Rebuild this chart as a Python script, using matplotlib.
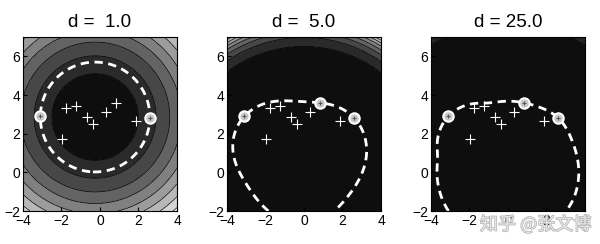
import numpy as np
import matplotlib
matplotlib.use("Agg")
from matplotlib import pyplot as plt
from matplotlib.ticker import MaxNLocator
import matplotlib.patheffects as pe
from itertools import combinations

plt.rcParams['font.family'] = ['Liberation Sans', 'Noto Sans CJK SC', 'DejaVu Sans']

# training objects
px = [-1.78, -1.26, -0.68, -0.37, 0.34, 0.84, 1.87, -1.95, -3.09, 2.59]
py = [3.34, 3.43, 2.88, 2.48, 3.14, 3.60, 2.67, 1.74, 2.90, 2.83]
degrees = [1, 5, 25]
titles = ["d =  1.0", "d =  5.0", "d = 25.0"]

X = np.column_stack([px, py])


def kern(A, B, d):
    return (A @ B.T + 1.0) ** d


def svdd(X, d):
    # hard margin SVDD, solved exactly by trying support sets
    K = kern(X, X, d)
    s = K.max()
    K = K / s
    dg = np.diag(K)
    n = len(X)
    best = None
    for m in range(1, 5):
        for S in combinations(range(n), m):
            S = list(S)
            A = np.zeros((m + 1, m + 1))
            A[:m, :m] = 2 * K[np.ix_(S, S)]
            A[:m, m] = 1
            A[m, :m] = 1
            b = np.append(dg[S], 1.0)
            try:
                sol = np.linalg.solve(A, b)
            except np.linalg.LinAlgError:
                continue
            a = np.zeros(n)
            a[S] = sol[:m]
            if a.min() < -1e-9:
                continue
            aka = a @ K @ a
            dist = dg - 2 * K @ a + aka
            R2 = dist[S].mean()
            if dist.max() > R2 + 1e-7 * max(1.0, abs(R2)):
                continue
            dual = a @ dg - aka
            if best is None or dual > best[0]:
                best = (dual, a, R2, aka)
    _, a, R2, aka = best
    return a, R2, aka, s


xg = np.linspace(-4, 4, 301)
yg = np.linspace(-2, 7, 341)
XX, YY = np.meshgrid(xg, yg)
Z = np.column_stack([XX.ravel(), YY.ravel()])

fig = plt.figure(figsize=(6.0, 2.44), dpi=100)
lefts = [0.038, 0.378, 0.718]

for i, d in enumerate(degrees):
    ax = fig.add_axes([lefts[i], 0.135, 0.257, 0.713])
    a, R2, aka, s = svdd(X, d)
    kz = kern(Z, X, d) / s
    kzz = ((Z * Z).sum(1) + 1.0) ** d / s
    F = (kzz - 2 * kz @ a + aka).reshape(XX.shape)
    if d == 1:
        F = F * s  # back to plain squared distance
        R2 = R2 * s
    lev = MaxNLocator(nbins=9).tick_values(F.min(), F.max())
    ax.contourf(XX, YY, F, levels=lev, cmap='gray')
    ax.contour(XX, YY, F, levels=lev[1:-1], colors='k', linewidths=0.5)
    ax.contour(XX, YY, F, levels=[R2], colors='white', linewidths=2.0,
               linestyles=[(0, (3, 2))])
    sv = a > 1e-6
    ax.plot(X[~sv, 0], X[~sv, 1], '+', color='white', ms=6.5, mew=0.8)
    ax.plot(X[sv, 0], X[sv, 1], 'o', mfc='#c8c8c8', mec='white', ms=7.5, mew=1.5)
    ax.plot(X[sv, 0], X[sv, 1], '+', color='#555555', ms=3, mew=0.8)
    ax.set_xlim(-4, 4)
    ax.set_ylim(-2, 7)
    ax.set_xticks([-4, -2, 0, 2, 4])
    ax.set_yticks([-2, 0, 2, 4, 6])
    ax.tick_params(direction='in', length=3, labelsize=10, pad=2)
    ax.set_title(titles[i], fontsize=13.5, pad=7)

fig.text(0.985, 0.08, "知乎 @张文博", ha='right', va='center', fontsize=13,
         color='#ececec', family=['Noto Sans CJK SC', 'DejaVu Sans'], alpha=0.9,
         path_effects=[pe.withStroke(linewidth=1.0, foreground='#aaaaaa')])

fig.savefig("out.png", dpi=100)
